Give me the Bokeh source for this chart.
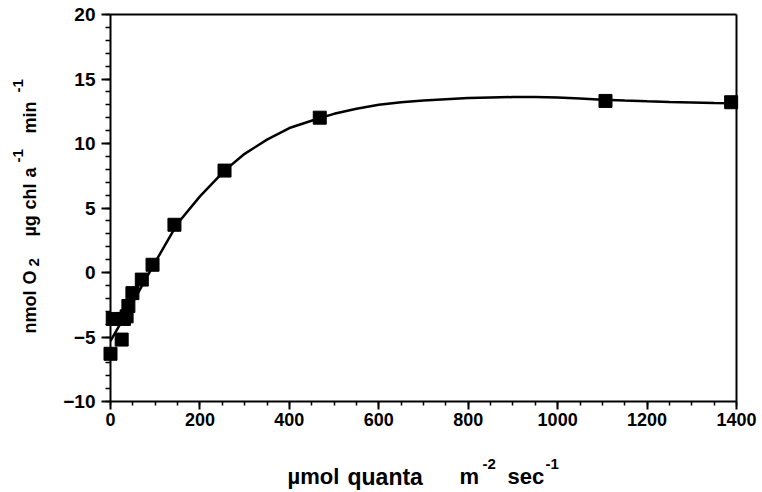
import math
from bokeh.plotting import figure
from bokeh.models import Range1d, FixedTicker, Label
from bokeh.embed import file_html
from bokeh.resources import INLINE

# measured data points (light, O2 evolution)
light = [0, 25, 5, 30, 36, 40, 49, 70, 94, 143, 255, 468, 1107, 1388]
oxygen = [-6.3, -5.2, -3.6, -3.6, -3.4, -2.6, -1.6, -0.55, 0.6, 3.7, 7.9, 12.0, 13.3, 13.2]

# fitted curve
curve_light = [0, 50, 100, 150, 200, 255, 300, 350, 400, 470, 500, 550, 600, 650, 700,
               750, 800, 850, 900, 950, 1000, 1050, 1100, 1150, 1200, 1250, 1300, 1350, 1388]
curve_oxygen = [-5.3, -2.3, 0.8, 3.8, 5.9, 7.9, 9.2, 10.3, 11.2, 12.0, 12.3, 12.7, 13.0, 13.2, 13.33,
                13.43, 13.52, 13.57, 13.6, 13.6, 13.56, 13.48, 13.4, 13.33, 13.27, 13.22, 13.18, 13.14, 13.12]

x_ticks = [0, 200, 400, 600, 800, 1000, 1200, 1400]
x_minor = list(range(0, 1401, 50))
y_ticks = [-10, -5, 0, 5, 10, 15, 20]
y_minor = list(range(-10, 21, 1))

X0, X1 = 0, 1400
Y0, Y1 = -10, 20

W, H = 762, 492
# pixel box of the axes inside the page
AX_L, AX_R, AX_T, AX_B = 110, 736, 14, 401
PX = (AX_R - AX_L) / (X1 - X0)
PY = (AX_B - AX_T) / (Y1 - Y0)

p = figure(width=W, height=H, output_backend="svg", toolbar_location=None,
           x_range=Range1d(X0 - AX_L / PX, X1 + (W - AX_R) / PX),
           y_range=Range1d(Y0 - (H - AX_B) / PY, Y1 + AX_T / PY),
           min_border=0, min_border_left=0, min_border_right=0,
           min_border_top=0, min_border_bottom=0)
p.outline_line_color = None
p.xgrid.visible = False
p.ygrid.visible = False
p.background_fill_color = "white"
p.border_fill_color = "white"

FONT = "Liberation Sans"

xa = p.xaxis[0]
xa.ticker = FixedTicker(ticks=x_ticks, minor_ticks=x_minor)
xa.bounds = (X0, X1)
xa.fixed_location = Y0
ya = p.yaxis[0]
ya.ticker = FixedTicker(ticks=y_ticks, minor_ticks=y_minor)
ya.bounds = (Y0, Y1)
ya.fixed_location = X0
for ax in (xa, ya):
    ax.axis_line_width = 2
    ax.axis_line_color = "black"
    ax.major_tick_line_width = 2
    ax.major_tick_in = 0
    ax.minor_tick_line_width = 1.5
    ax.minor_tick_in = 0
    ax.major_label_text_font = FONT
    ax.major_label_text_font_style = "bold"
    ax.major_label_text_color = "black"
xa.major_label_text_font_size = "18px"
ya.major_label_text_font_size = "19px"
xa.major_tick_out = 8
xa.minor_tick_out = 4
xa.major_label_standoff = 3
ya.major_tick_out = 9
ya.minor_tick_out = 5
ya.major_label_standoff = 6

# top and right frame lines
p.segment(x0=[X0, X1], y0=[Y1, Y0], x1=[X1, X1], y1=[Y1, Y1], line_width=2, line_color="black")

p.line(curve_light, curve_oxygen, line_width=2.5, line_color="black")
p.scatter(light, oxygen, marker="square", size=13, fill_color="black", line_color="black")


def dx(cx):
    return X0 + (cx - AX_L) / PX


def dy(cy):
    return Y0 + (AX_B - cy) / PY


def add_text(text, cx, cy, size, angle=0.0):
    p.add_layout(Label(x=dx(cx), y=dy(cy), text=text, angle=angle,
                       text_font=FONT, text_font_style="bold", text_font_size=size,
                       text_color="black", text_align="left", text_baseline="alphabetic"))


A = math.pi / 2
YB = 29          # baseline of the rotated y label
# y axis label: nmol O2 µg chl a-1 min-1
add_text("nmol", YB, 333, "18px", A)
add_text("O", YB, 284, "18px", A)
add_text("2", YB + 4, 266, "15px", A)
add_text("\u00b5g", YB, 236, "18px", A)
add_text("chl", YB, 209, "18px", A)
add_text("a", YB, 177, "18px", A)
add_text("-1", YB - 12, 162, "15px", A)
add_text("min", YB, 133, "18px", A)
add_text("-1", YB - 12, 92, "15px", A)

XB = 476         # baseline of the x label
# x axis label: µmol quanta m-2 sec-1
add_text("\u00b5mol", 287, XB, "22px")
add_text("quanta", 347, XB, "23px")
add_text("m", 459, XB, "22px")
add_text("-2", 482, XB - 13, "15px")
add_text("sec", 507, XB, "22px")
add_text("-1", 545, XB - 13, "15px")

open("out.html", "w").write(file_html(p, INLINE))
